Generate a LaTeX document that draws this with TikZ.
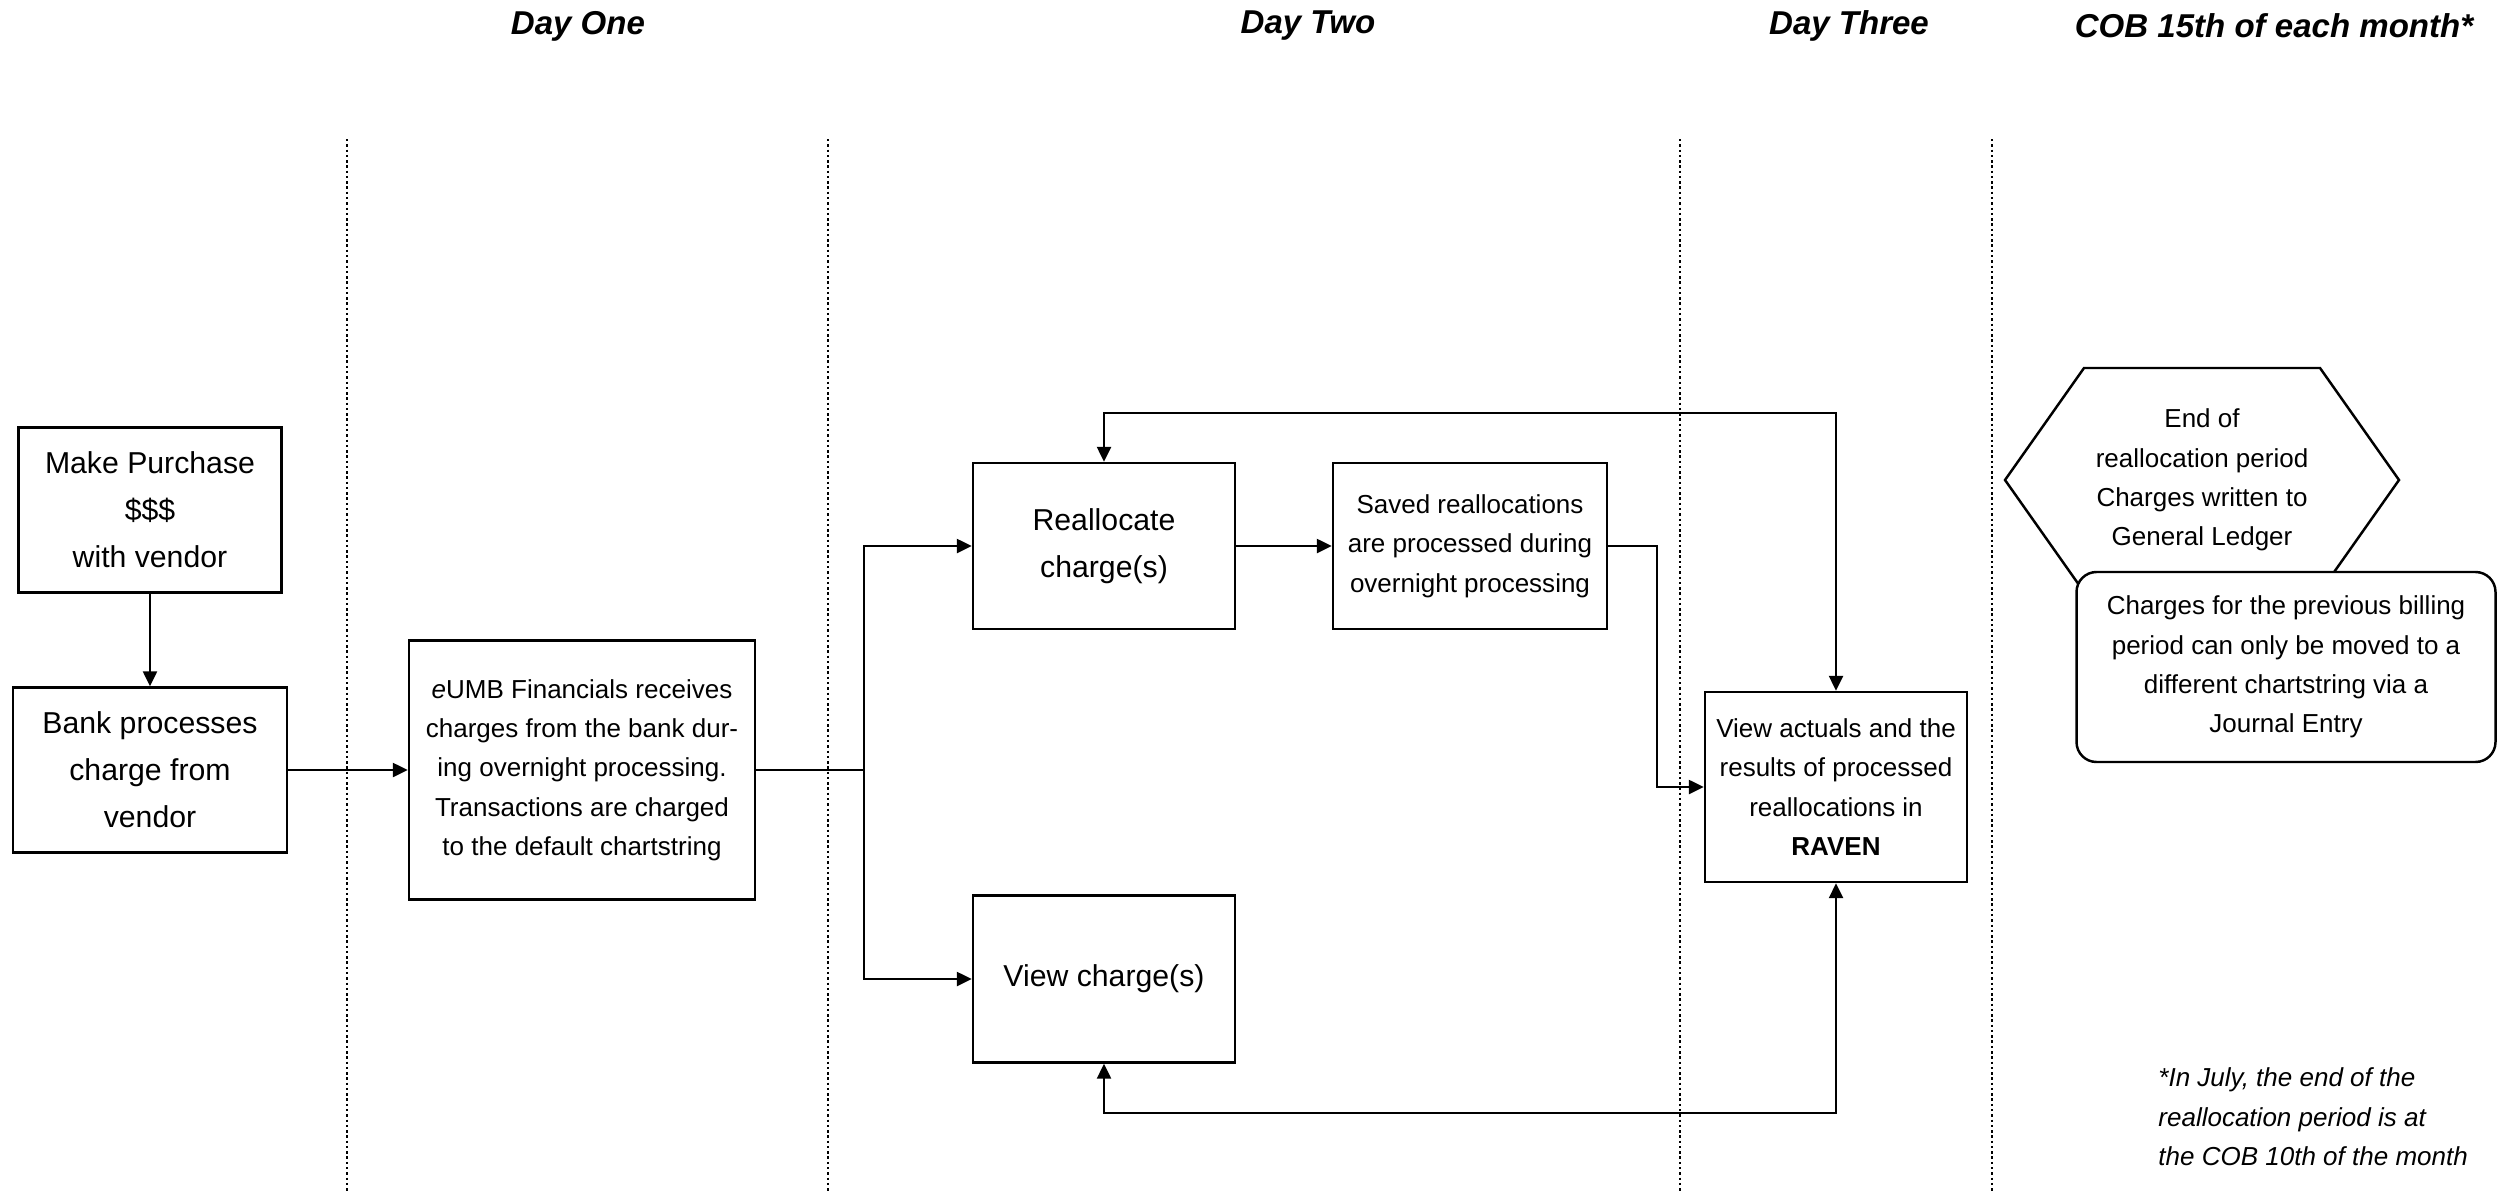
\documentclass[tikz,border=0pt]{standalone}
\usepackage{fontspec}
\setmainfont{Liberation Sans}
\usetikzlibrary{arrows.meta, positioning}

\begin{document}
\begin{tikzpicture}[
    proc/.style={draw, line width=0.7pt, align=center, inner sep=0pt,
      font=\fontsize{8.6}{13.4}\selectfont},
    note/.style={proc, font=\fontsize{7.4}{11.2}\selectfont},
    hdr/.style={font=\fontsize{9.4}{11}\selectfont\bfseries\itshape},
    lane/.style={dash pattern=on 0.7pt off 0.8pt, line width=0.7pt},
    arr/.style={-{Triangle[length=1.5mm, width=1.4mm]}, line width=0.7pt},
    both/.style={{Triangle[length=1.5mm, width=1.4mm]}-{Triangle[length=1.5mm, width=1.4mm]},
      line width=0.7pt}]
  \useasboundingbox (0,0) rectangle (25.11,-11.92);
  % day columns
  \node[hdr] (d1) at (5.78,-0.26) {Day One};
  \node[hdr] (d2) at (13.08,-0.26) {Day Two};
  \node[hdr] (d3) at (18.49,-0.26) {Day Three};
  \node[hdr] (d4) at (22.74,-0.26) {COB 15th of each month*};
  \foreach \x in {3.47,8.28,16.80,19.92} \draw[lane] (\x,-1.39) -- (\x,-11.92);
  % boxes
  \node[proc, minimum width=2.63cm, minimum height=1.65cm] (buy) at (1.50,-5.10) {Make Purchase\\\$\$\$\\with vendor};
  \node[proc, minimum width=2.74cm, minimum height=1.65cm] (bank) at (1.50,-7.70) {Bank processes\\charge from\\vendor};
  \node[note, minimum width=3.46cm, minimum height=2.59cm] (eumb) at (5.82,-7.70)
    {\textit{e}UMB Financials receives\\charges from the bank dur-\\ing overnight processing.\\Transactions are charged\\to the default chartstring};
  \node[proc, minimum width=2.62cm, minimum height=1.66cm] (realloc) at (11.04,-5.46) {Reallocate\\charge(s)};
  \node[note, minimum width=2.74cm, minimum height=1.66cm] (saved) at (14.70,-5.46)
    {Saved reallocations\\are processed during\\overnight processing};
  \node[proc, minimum width=2.62cm, minimum height=1.67cm] (viewc) at (11.04,-9.79) {View charge(s)};
  \node[note, minimum width=2.62cm, minimum height=1.90cm] (raven) at (18.36,-7.87)
    {View actuals and the\\results of processed\\reallocations in\\\textbf{RAVEN}};
  % end of period
  \node[note, draw=none] (endp) at (22.02,-4.80) {End of\\reallocation period\\Charges written to\\General Ledger};
  \draw[line width=0.7pt] ([xshift=-1.97cm]endp.center) -- ++(0.79,1.12) -- ++(2.36,0)
    -- ++(0.79,-1.12) -- ++(-0.79,-1.12) -- ++(-2.36,0) -- cycle;
  \node[note, fill=white, rounded corners=0.2cm, minimum width=4.19cm, minimum height=1.90cm] (jrnl) at (22.86,-6.67)
    {Charges for the previous billing\\period can only be moved to a\\different chartstring via a\\Journal Entry};
  \node[anchor=west, align=left, font=\fontsize{7.4}{11.2}\selectfont\itshape] (foot) at (21.46,-11.17)
    {*In July, the end of the\\reallocation period is at\\the COB 10th of the month};
  % flow
  \draw[arr] (buy) -- (bank);
  \draw[arr] (bank) -- (eumb);
  \coordinate (split) at (8.64,-7.70);
  \draw[line width=0.7pt] (eumb) -- (split);
  \draw[arr] (split) |- (realloc);
  \draw[arr] (split) |- (viewc);
  \draw[arr] (realloc) -- (saved);
  \draw[arr] (saved.east) -- ++(0.49,0) |- (raven.west);
  \draw[both] (realloc.north) -- ++(0,0.49) -| (raven.north);
  \draw[both] (viewc.south) -- ++(0,-0.49) -| (raven.south);
\end{tikzpicture}
\end{document}
